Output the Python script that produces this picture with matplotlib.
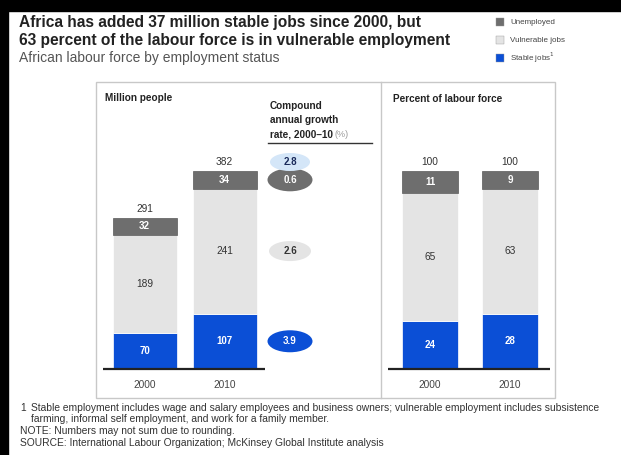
import matplotlib.pyplot as plt
from matplotlib.patches import Ellipse, Rectangle
from matplotlib.lines import Line2D

plt.rcParams['font.family'] = ['Liberation Sans', 'DejaVu Sans']

years = ['2000', '2010']

# million people
stable_m = [70, 107]
vulnerable_m = [189, 241]
unemployed_m = [32, 34]
total_m = [291, 382]

# percent of labour force
stable_pct = [24, 28]
vulnerable_pct = [65, 63]
unemployed_pct = [11, 9]
total_pct = [100, 100]

# compound annual growth rate 2000-10, %
cagr_total = 2.8
cagr_segments = [3.9, 2.6, 0.6]  # stable, vulnerable, unemployed

BLUE = '#0b4fd6'
LIGHT = '#e4e4e4'
DARK = '#6e6e6e'
PALE_BLUE = '#d4e6f8'

W, H = 621, 455
fig = plt.figure(figsize=(W / 100, H / 100), dpi=100)
fig.patch.set_facecolor('white')


def fx(x):
    return x / W


def fy(y):
    return 1 - y / H


def rect(x0, y0, x1, y1):
    return [fx(x0), fy(y1), (x1 - x0) / W, (y1 - y0) / H]


# black strips along the top and left edge
fig.patches.append(Rectangle((0, fy(11)), 1, 11 / H, transform=fig.transFigure,
                             color='black', zorder=10))
fig.patches.append(Rectangle((0, 0), 8 / W, 1, transform=fig.transFigure,
                             color='black', zorder=10))

# titles
fig.text(fx(19), fy(23), 'Africa has added 37 million stable jobs since 2000, but',
         fontsize=11.2, fontweight='bold', color='#222222', va='center')
fig.text(fx(19), fy(41), '63 percent of the labour force is in vulnerable employment',
         fontsize=11.2, fontweight='bold', color='#222222', va='center')
fig.text(fx(19), fy(58), 'African labour force by employment status',
         fontsize=10, color='#555555', va='center')

# legend
legend_items = [('Unemployed', DARK), ('Vulnerable jobs', LIGHT), ('Stable jobs$^1$', BLUE)]
for i, (name, col) in enumerate(legend_items):
    yy = 22 + i * 18
    fig.patches.append(Rectangle((fx(496), fy(yy + 4)), 8 / W, 8 / H,
                                 transform=fig.transFigure, facecolor=col,
                                 edgecolor='#999999', lw=0.3))
    fig.text(fx(510), fy(yy), name, fontsize=5.8, color='#444444', va='center')

# panel frame
fig.patches.append(Rectangle((fx(96), fy(398)), (555 - 96) / W, (398 - 82) / H,
                             transform=fig.transFigure, fill=False,
                             edgecolor='#c8c8c8', lw=1))
fig.lines.append(Line2D([fx(381), fx(381)], [fy(82), fy(398)],
                        transform=fig.transFigure, color='#c8c8c8', lw=1))

fig.text(fx(105), fy(98), 'Million people', fontsize=7.2, fontweight='bold',
         color='#222222', va='center')
fig.text(fx(393), fy(99), 'Percent of labour force', fontsize=7.2, fontweight='bold',
         color='#222222', va='center')

fig.text(fx(270), fy(106), 'Compound', fontsize=7.2, fontweight='bold',
         color='#222222', va='center')
fig.text(fx(270), fy(120), 'annual growth', fontsize=7.2, fontweight='bold',
         color='#222222', va='center')
fig.text(fx(270), fy(134), 'rate, 2000–10', fontsize=7.2, fontweight='bold',
         color='#222222', va='center')
fig.text(fx(335), fy(134), '(%)', fontsize=6.5, color='#9a9a9a', va='center')
fig.lines.append(Line2D([fx(268), fx(372)], [fy(143), fy(143)],
                        transform=fig.transFigure, color='#333333', lw=1))


def stacked(ax, stable, vulnerable, unemployed, totals, width, fmt):
    xs = range(len(stable))
    ax.bar(xs, stable, width, color=BLUE, edgecolor='white', lw=0.5)
    ax.bar(xs, vulnerable, width, bottom=stable, color=LIGHT, edgecolor='white', lw=0.5)
    bottoms = [s + v for s, v in zip(stable, vulnerable)]
    ax.bar(xs, unemployed, width, bottom=bottoms, color=DARK, edgecolor='#5a5a5a', lw=0.5)
    for i in xs:
        ax.text(i, stable[i] / 2, fmt(stable[i]), ha='center', va='center',
                fontsize=7, fontweight='bold', color='white')
        ax.text(i, stable[i] + vulnerable[i] / 2, fmt(vulnerable[i]), ha='center',
                va='center', fontsize=7.3, color='#333333')
        ax.text(i, bottoms[i] + unemployed[i] / 2, fmt(unemployed[i]), ha='center',
                va='center', fontsize=7, fontweight='bold', color='white')
        ax.annotate(fmt(totals[i]), (i, totals[i]), xytext=(0, 3),
                    textcoords='offset points', ha='center', va='bottom',
                    fontsize=7.3, color='#333333')
        ax.annotate(years[i], (i, 0), xytext=(0, -8), textcoords='offset points',
                    ha='center', va='top', fontsize=7.3, color='#444444')
    ax.set_axis_off()


# left panel: million people, 80 px between bars, 198 px for 382
k_m = 198 / 382
ax1 = fig.add_axes(rect(103, 82, 380, 369))
ax1.set_xlim(-(144.5 - 103) / 80, (380 - 144.5) / 80)
ax1.set_ylim(0, 287 / k_m)
stacked(ax1, stable_m, vulnerable_m, unemployed_m, total_m, 0.8, lambda v: f'{v}')
ax1.plot([-(144.5 - 103) / 80, (265 - 144.5) / 80], [0, 0], color='#222222',
         lw=1.6, solid_capstyle='butt', clip_on=False)

# growth-rate bubbles beside the 2010 bar
bx = (290 - 144.5) / 80
seg_mid = [stable_m[1] / 2,
           stable_m[1] + vulnerable_m[1] / 2,
           stable_m[1] + vulnerable_m[1] + unemployed_m[1] / 2]
bubble_style = [(BLUE, 'white', 45, 22), (LIGHT, '#333333', 42, 20), (DARK, 'white', 45, 23)]
for val, yv, (fc, tc, wpx, hpx) in zip(cagr_segments, seg_mid, bubble_style):
    ax1.add_patch(Ellipse((bx, yv), wpx / 80, hpx / k_m, facecolor=fc, edgecolor='none'))
    ax1.text(bx, yv, f'{val}', ha='center', va='center', fontsize=7,
             fontweight='bold', color=tc)
# total growth sits level with the 2010 total label
ty = total_m[1] + 9 / k_m
ax1.add_patch(Ellipse((bx, ty), 40 / 80, 18 / k_m, facecolor=PALE_BLUE, edgecolor='none'))
ax1.text(bx, ty, f'{cagr_total}', ha='center', va='center', fontsize=7,
         fontweight='bold', color='#1a2a5a')

# right panel: percent of labour force
k_p = 198 / 100
ax2 = fig.add_axes(rect(388, 82, 553, 369))
ax2.set_xlim(-(430 - 388) / 80, (553 - 430) / 80)
ax2.set_ylim(0, 287 / k_p)
stacked(ax2, stable_pct, vulnerable_pct, unemployed_pct, total_pct, 0.7, lambda v: f'{v}')
ax2.plot([-(430 - 388) / 80, (550 - 430) / 80], [0, 0], color='#222222',
         lw=1.6, solid_capstyle='butt', clip_on=False)

# footnotes
notes = [
    (20, 408, '1'),
    (31, 408, 'Stable employment includes wage and salary employees and business owners; '
              'vulnerable employment includes subsistence'),
    (31, 419, 'farming, informal self employment, and work for a family member.'),
    (20, 431, 'NOTE: Numbers may not sum due to rounding.'),
    (20, 443, 'SOURCE: International Labour Organization; McKinsey Global Institute analysis'),
]
for x, y, t in notes:
    fig.text(fx(x), fy(y), t, fontsize=7.4, color='#333333', va='center')

fig.savefig('out.png', dpi=100)
